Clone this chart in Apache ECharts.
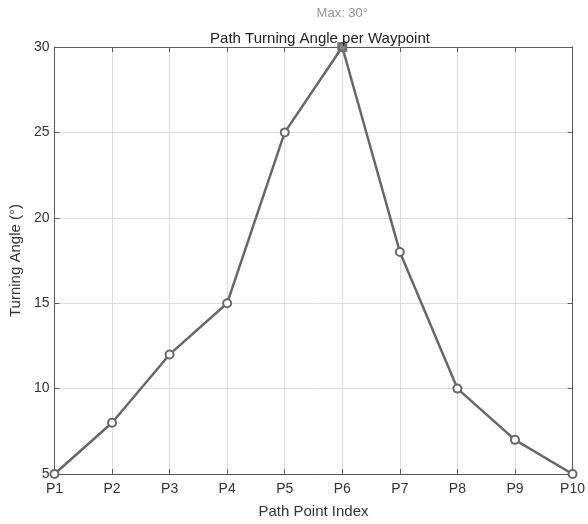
<!DOCTYPE html>
<html>
<head>
<meta charset="utf-8">
<script src="https://cdn.jsdelivr.net/npm/echarts@6/dist/echarts.min.js"></script>
<style>
  html, body { margin: 0; padding: 0; background: #fff; }
  #chart { width: 588px; height: 524px; }
</style>
</head>
<body>
<div id="chart"></div>
<script>
// Waypoint labels and the turning angle (degrees) at each one
const pointLabels = ['P1', 'P2', 'P3', 'P4', 'P5', 'P6', 'P7', 'P8', 'P9', 'P10'];
const turningAngles = [5, 8, 12, 15, 25, 30, 18, 10, 7, 5];
const yTicks = { min: 5, max: 30, step: 5 };

const maxVal = Math.max(...turningAngles);
const maxIdx = turningAngles.indexOf(maxVal);
const maxData = turningAngles.map((v, i) => (i === maxIdx ? v : '-'));

const FONT = 'Liberation Sans, Arial, Helvetica, sans-serif';
const AXIS_COLOR = '#5a5a5a';
const LINE_COLOR = '#686868';

const chart = echarts.init(document.getElementById('chart'));

const axisBase = {
  axisLine: { show: true, lineStyle: { color: AXIS_COLOR, width: 1 } },
  axisTick: { show: true, inside: true, length: 5, lineStyle: { color: AXIS_COLOR } },
};

chart.setOption({
  animation: false,
  backgroundColor: '#ffffff',
  title: {
    text: 'Path Turning Angle per Waypoint',
    left: 315, top: 26, textAlign: 'center',
    textStyle: { fontFamily: FONT, fontSize: 15, fontWeight: 'normal', color: '#222' }
  },
  grid: { left: 53, right: 11, top: 47, bottom: 44, containLabel: false },
  xAxis: [
    Object.assign({}, axisBase, {
      type: 'category', data: pointLabels, boundaryGap: false, position: 'bottom',
      name: 'Path Point Index', nameLocation: 'middle', nameGap: 30,
      nameTextStyle: { fontFamily: FONT, fontSize: 15, color: '#333' },
      axisLabel: { fontFamily: FONT, fontSize: 14, color: '#333', margin: 8 },
      splitLine: { show: true, lineStyle: { color: '#dcdcdc', width: 1 } }
    }),
    Object.assign({}, axisBase, {
      type: 'category', data: pointLabels, boundaryGap: false, position: 'top',
      axisLabel: { show: false }, splitLine: { show: false }
    })
  ],
  yAxis: [
    Object.assign({}, axisBase, {
      type: 'value', min: yTicks.min, max: yTicks.max, interval: yTicks.step, position: 'left',
      name: 'Turning Angle (°)', nameLocation: 'middle', nameGap: 24, nameRotate: 90,
      nameTextStyle: { fontFamily: FONT, fontSize: 15, color: '#333' },
      axisLabel: { fontFamily: FONT, fontSize: 14, color: '#333', margin: 5 },
      splitLine: { show: true, lineStyle: { color: '#dcdcdc', width: 1 } }
    }),
    Object.assign({}, axisBase, {
      type: 'value', min: yTicks.min, max: yTicks.max, interval: yTicks.step, position: 'right',
      axisLabel: { show: false }, splitLine: { show: false }
    })
  ],
  series: [
    {
      type: 'line',
      data: turningAngles,
      lineStyle: { color: LINE_COLOR, width: 2.5 },
      symbol: 'circle', symbolSize: 8,
      itemStyle: { color: '#ffffff', borderColor: LINE_COLOR, borderWidth: 2 },
      z: 3
    },
    {
      type: 'scatter',
      data: maxData,
      symbol: 'rect', symbolSize: 10,
      itemStyle: { color: '#6a6a6a' },
      label: {
        show: true, position: 'top', distance: 22,
        formatter: (p) => 'Max: ' + p.value + '°',
        fontFamily: FONT, fontSize: 13, color: '#777'
      },
      z: 4
    }
  ]
});
</script>
</body>
</html>
